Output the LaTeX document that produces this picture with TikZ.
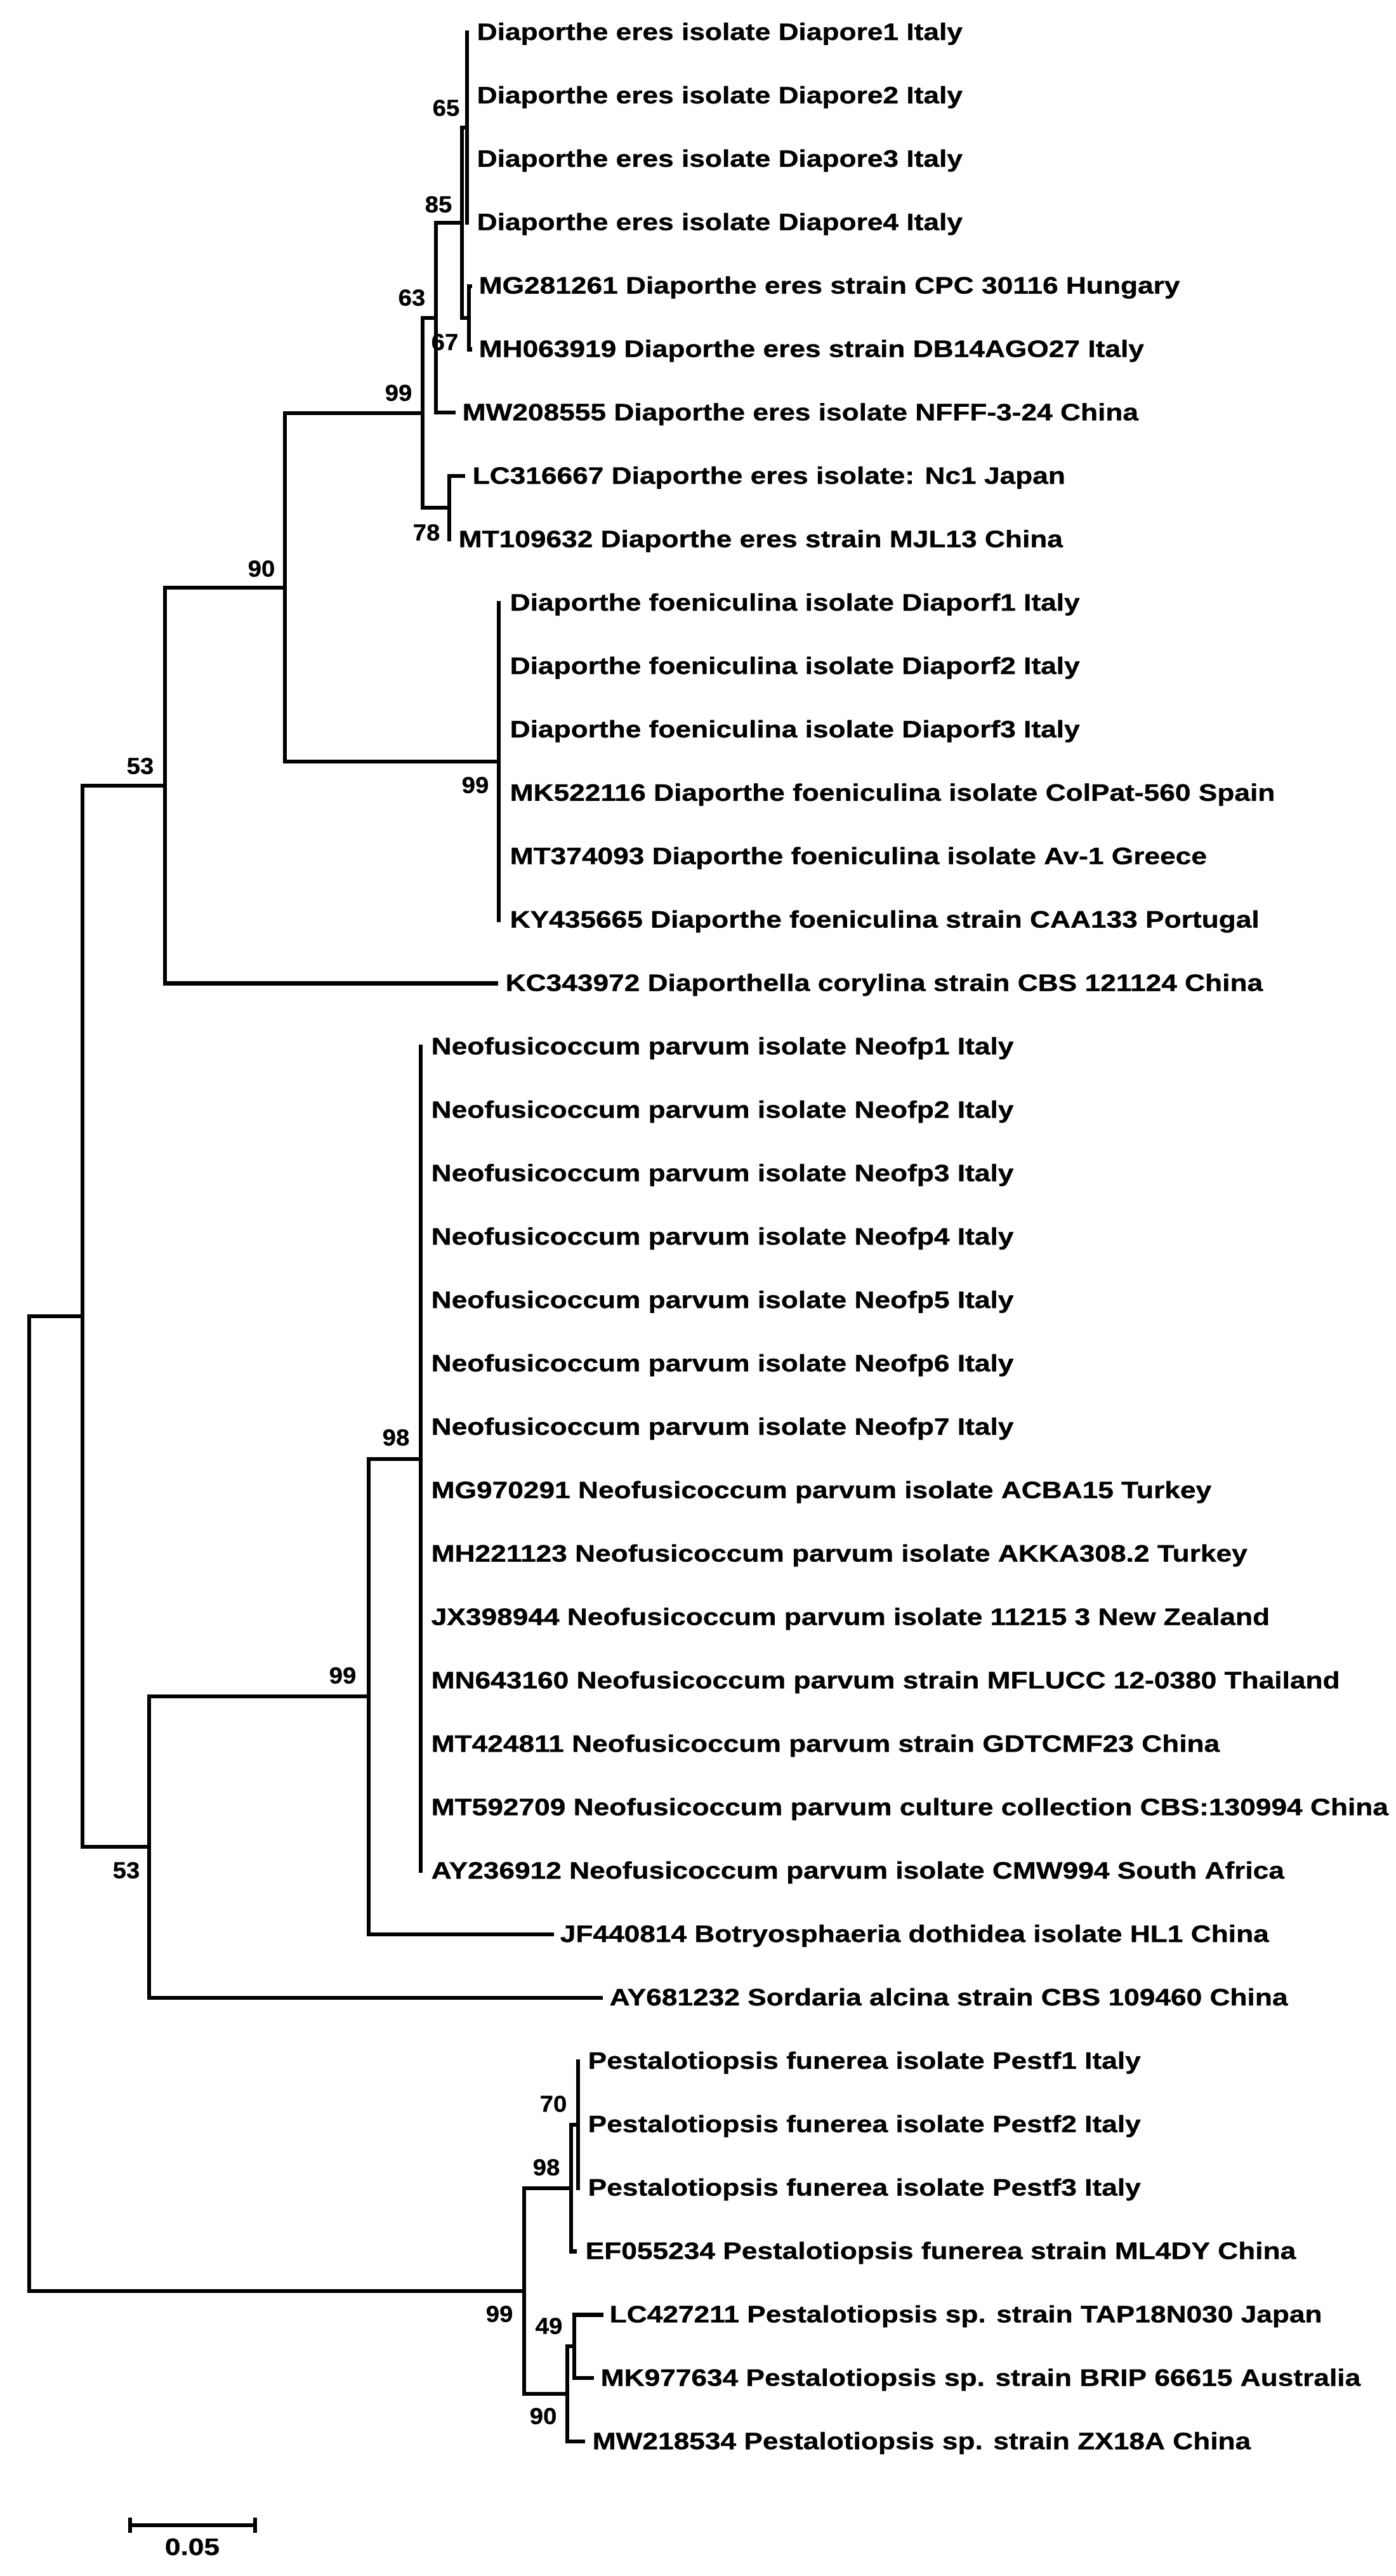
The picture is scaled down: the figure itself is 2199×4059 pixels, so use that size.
\documentclass[tikz,border=0pt]{standalone}
\usepackage{fontspec}
\newfontfamily\leaffont[FakeStretch=1.18, BoldFeatures={FakeBold=0.8}]{Liberation Sans}
\newfontfamily\bsfont[FakeStretch=1.05, BoldFeatures={FakeBold=0.4}]{Liberation Sans}
\begin{document}
\begin{tikzpicture}[x=0.01cm, y=-0.01cm,
  branch/.style={line width=1.75pt, line cap=rect},
  leaf/.style={anchor=base west, inner sep=0pt, font=\leaffont\bfseries\fontsize{10.67pt}{12pt}\selectfont},
  boot/.style={anchor=center, inner sep=0pt, font=\bsfont\bfseries\fontsize{10.4pt}{12pt}\selectfont}]
\useasboundingbox[fill=white] (0,0) rectangle (2199,4059);

% leaf tips and labels: index / tip x / label x / text
\foreach \i/\tx/\lx/\txt in {
 0/736/751/Diaporthe eres isolate Diapore1 Italy,
 1/736/751/Diaporthe eres isolate Diapore2 Italy,
 2/736/751/Diaporthe eres isolate Diapore3 Italy,
 3/736/751/Diaporthe eres isolate Diapore4 Italy,
 4/741/754/MG281261 Diaporthe eres strain CPC 30116 Hungary,
 5/741/754/MH063919 Diaporthe eres strain DB14AGO27 Italy,
 6/715/728/MW208555 Diaporthe eres isolate NFFF-3-24 China,
 7/730/744/LC316667 Diaporthe eres isolate: Nc1 Japan,
 8/708/722/MT109632 Diaporthe eres strain MJL13 China,
 9/786/803/Diaporthe foeniculina isolate Diaporf1 Italy,
 10/786/803/Diaporthe foeniculina isolate Diaporf2 Italy,
 11/786/803/Diaporthe foeniculina isolate Diaporf3 Italy,
 12/786/803/MK522116 Diaporthe foeniculina isolate ColPat-560 Spain,
 13/786/803/MT374093 Diaporthe foeniculina isolate Av-1 Greece,
 14/786/803/KY435665 Diaporthe foeniculina strain CAA133 Portugal,
 15/782/796/KC343972 Diaporthella corylina strain CBS 121124 China,
 16/663/679/Neofusicoccum parvum isolate Neofp1 Italy,
 17/663/679/Neofusicoccum parvum isolate Neofp2 Italy,
 18/663/679/Neofusicoccum parvum isolate Neofp3 Italy,
 19/663/679/Neofusicoccum parvum isolate Neofp4 Italy,
 20/663/679/Neofusicoccum parvum isolate Neofp5 Italy,
 21/663/679/Neofusicoccum parvum isolate Neofp6 Italy,
 22/663/679/Neofusicoccum parvum isolate Neofp7 Italy,
 23/663/679/MG970291 Neofusicoccum parvum isolate ACBA15 Turkey,
 24/663/679/MH221123 Neofusicoccum parvum isolate AKKA308.2 Turkey,
 25/663/679/JX398944 Neofusicoccum parvum isolate 11215 3 New Zealand,
 26/663/679/MN643160 Neofusicoccum parvum strain MFLUCC 12-0380 Thailand,
 27/663/679/MT424811 Neofusicoccum parvum strain GDTCMF23 China,
 28/663/679/MT592709 Neofusicoccum parvum culture collection CBS:130994 China,
 29/663/679/AY236912 Neofusicoccum parvum isolate CMW994 South Africa,
 30/870/882/JF440814 Botryosphaeria dothidea isolate HL1 China,
 31/947/960/AY681232 Sordaria alcina strain CBS 109460 China,
 32/911/926/Pestalotiopsis funerea isolate Pestf1 Italy,
 33/911/926/Pestalotiopsis funerea isolate Pestf2 Italy,
 34/911/926/Pestalotiopsis funerea isolate Pestf3 Italy,
 35/906/922/EF055234 Pestalotiopsis funerea strain ML4DY China,
 36/948/960/LC427211 Pestalotiopsis sp. strain TAP18N030 Japan,
 37/933/946/MK977634 Pestalotiopsis sp. strain BRIP 66615 Australia,
 38/919/933/MW218534 Pestalotiopsis sp. strain ZX18A China}
{
  \coordinate (t\i) at (\tx, {51+99.9*\i});
  \node[leaf] (n\i) at (\lx, {63+99.9*\i}) {\txt};
}

% internal nodes
\coordinate (G) at (736,201);
\coordinate (H) at (739,501);
\coordinate (F) at (728,351);
\coordinate (E) at (687,501);
\coordinate (I) at (708,800);
\coordinate (D) at (666,651);
\coordinate (J) at (786,1200);
\coordinate (C) at (449,926);
\coordinate (B) at (260,1238);
\coordinate (M) at (663,2299);
\coordinate (L) at (581,2673);
\coordinate (K) at (235,2910);
\coordinate (A) at (130,2074);
\coordinate (P) at (911,3348);
\coordinate (O) at (900,3448);
\coordinate (S) at (905,3697);
\coordinate (Q) at (894,3772);
\coordinate (N) at (826,3610);
\coordinate (R) at (46,2842);

% branches
\draw[branch] (G |- t0) -- (G |- t3);
\draw[branch] (H |- t4) -- (H |- t5);
\draw[branch] (H |- t4) -- (t4);
\draw[branch] (H |- t5) -- (t5);
\draw[branch] (F |- G) -- (F |- H);
\draw[branch] (F |- G) -- (G);
\draw[branch] (F |- H) -- (H);
\draw[branch] (E |- F) -- (E |- t6);
\draw[branch] (E |- F) -- (F);
\draw[branch] (E |- t6) -- (t6);
\draw[branch] (I |- t7) -- (I |- t8);
\draw[branch] (I |- t7) -- (t7);
\draw[branch] (D |- E) -- (D |- I);
\draw[branch] (D |- E) -- (E);
\draw[branch] (D |- I) -- (I);
\draw[branch] (J |- t9) -- (J |- t14);
\draw[branch] (C |- D) -- (C |- J);
\draw[branch] (C |- D) -- (D);
\draw[branch] (C |- J) -- (J);
\draw[branch] (B |- C) -- (B |- t15);
\draw[branch] (B |- C) -- (C);
\draw[branch] (B |- t15) -- (t15);
\draw[branch] (M |- t16) -- (M |- t29);
\draw[branch] (L |- M) -- (L |- t30);
\draw[branch] (L |- M) -- (M);
\draw[branch] (L |- t30) -- (t30);
\draw[branch] (K |- L) -- (K |- t31);
\draw[branch] (K |- L) -- (L);
\draw[branch] (K |- t31) -- (t31);
\draw[branch] (A |- B) -- (A |- K);
\draw[branch] (A |- B) -- (B);
\draw[branch] (A |- K) -- (K);
\draw[branch] (P |- t32) -- (P |- t34);
\draw[branch] (O |- P) -- (O |- t35);
\draw[branch] (O |- P) -- (P);
\draw[branch] (O |- t35) -- (t35);
\draw[branch] (S |- t36) -- (S |- t37);
\draw[branch] (S |- t36) -- (t36);
\draw[branch] (S |- t37) -- (t37);
\draw[branch] (Q |- S) -- (Q |- t38);
\draw[branch] (Q |- S) -- (S);
\draw[branch] (Q |- t38) -- (t38);
\draw[branch] (N |- O) -- (N |- Q);
\draw[branch] (N |- O) -- (O);
\draw[branch] (N |- Q) -- (Q);
\draw[branch] (R |- A) -- (R |- N);
\draw[branch] (R |- A) -- (A);
\draw[branch] (R |- N) -- (N);

% bootstrap values
\node[boot] (b65) at (703,170) {65};
\node[boot] (b85) at (691,322) {85};
\node[boot] (b63) at (649,469) {63};
\node[boot] (b67) at (701,539) {67};
\node[boot] (b99a) at (628,619) {99};
\node[boot] (b78) at (672,839) {78};
\node[boot] (b90a) at (412,896) {90};
\node[boot] (b99b) at (749,1237) {99};
\node[boot] (b53a) at (221,1207) {53};
\node[boot] (b98a) at (624,2265) {98};
\node[boot] (b99c) at (540,2640) {99};
\node[boot] (b53b) at (199,2947) {53};
\node[boot] (b70) at (872,3315) {70};
\node[boot] (b98b) at (861,3415) {98};
\node[boot] (b99d) at (787,3646) {99};
\node[boot] (b49) at (865,3665) {49};
\node[boot] (b90b) at (856,3807) {90};

% scale bar
\coordinate (sb1) at (205,3979);
\coordinate (sb2) at (402,3979);
\draw[line width=1.75pt] (sb1) -- (sb2);
\draw[line width=1.75pt] ([yshift=0.12cm]sb1) -- ([yshift=-0.12cm]sb1);
\draw[line width=1.75pt] ([yshift=0.12cm]sb2) -- ([yshift=-0.12cm]sb2);
\node[leaf, anchor=center] (sbl) at (303,4013) {0.05};
\end{tikzpicture}
\end{document}
